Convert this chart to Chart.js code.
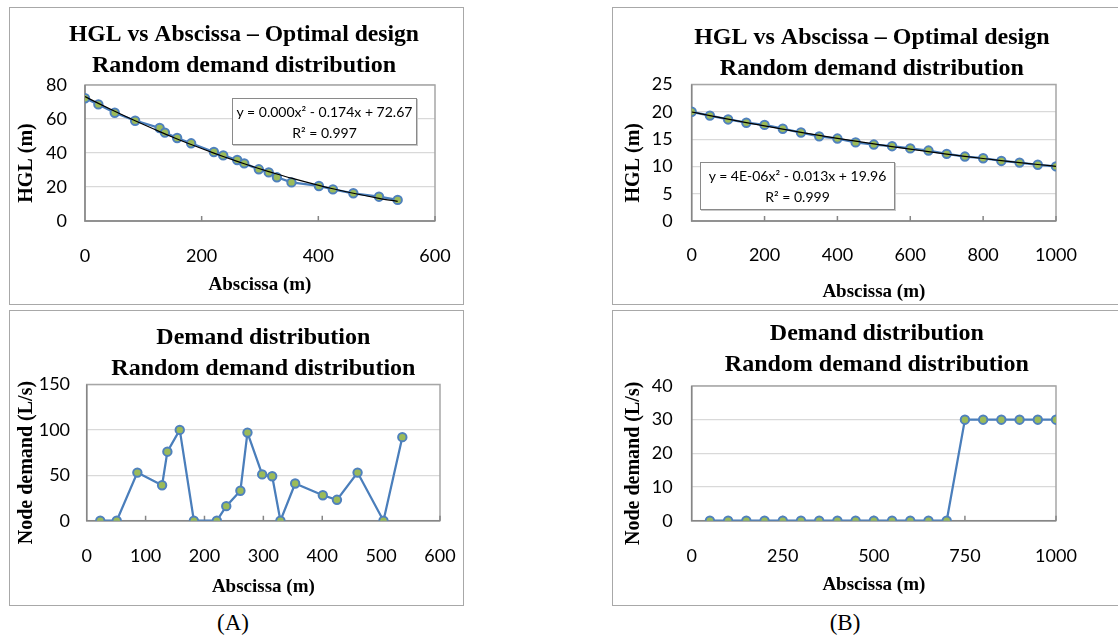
<!DOCTYPE html>
<html>
<head>
<meta charset="utf-8">
<script src="https://cdn.jsdelivr.net/npm/chart.js@4.4.1/dist/chart.umd.min.js"></script>
<style>
  body { margin: 0; width: 1118px; height: 641px; overflow: hidden; background: #fff; position: relative; }
  .box { position: absolute; border: 1.5px solid #a8a8a8; box-sizing: border-box; }
  canvas { position: absolute; }
  .eq { position: absolute; background: #fff; border: 1px solid #8a8a8a; box-shadow: 1px 1px 0 #c8c8c8; white-space: nowrap;
        font: 14px Lato, sans-serif; text-align: center; line-height: 21px; color: #000; box-sizing: border-box; padding-top: 2px; }
  .lbl { position: absolute; font: 23px 'Liberation Serif', serif; transform: translateX(-50%); }
</style>
</head>
<body>
<div class="box" style="left:9px;top:7px;width:455px;height:298px"></div>
<div class="box" style="left:612px;top:7px;width:520px;height:298px"></div>
<div class="box" style="left:9px;top:310px;width:455px;height:296px"></div>
<div class="box" style="left:612px;top:310px;width:520px;height:296px"></div>

<canvas id="a1" width="470" height="297" style="left:9px;top:7px"></canvas>
<canvas id="b1" width="506" height="297" style="left:612px;top:7px"></canvas>
<canvas id="a2" width="454" height="295" style="left:9px;top:310px"></canvas>
<canvas id="b2" width="506" height="295" style="left:612px;top:310px"></canvas>

<div class="eq" style="left:232px;top:98px;width:185px;height:47px">y = 0.000x² - 0.174x + 72.67<br>R² = 0.997</div>
<div class="eq" style="left:700px;top:162px;width:195px;height:48px">y = 4E-06x² - 0.013x + 19.96<br>R² = 0.999</div>

<div class="lbl" style="left:233px;top:610px">(A)</div>
<div class="lbl" style="left:845px;top:610px">(B)</div>

<script>
// (A) random demand case - node positions along the main (m)
const hglXA = [0, 23, 51, 86, 128, 137, 158, 182, 221, 237, 261, 273, 298, 315, 329, 354, 401, 425, 460, 504, 536];
const hglYA = [72.2, 68.6, 63.7, 59.0, 54.7, 52.0, 48.8, 45.7, 40.6, 38.6, 35.9, 33.9, 30.4, 28.6, 25.7, 22.7, 20.6, 18.6, 16.3, 14.3, 12.4];
const demandXA = [23, 51, 86, 128, 137, 158, 182, 221, 237, 261, 273, 298, 315, 329, 354, 401, 425, 460, 504, 536];
const demandYA = [0, 0, 53, 39, 76, 100, 0, 0, 16, 33, 97, 51, 49, 0, 41, 28, 23, 53, 0, 92];

// (B) step demand case
const hglXB = [0, 50, 100, 150, 200, 250, 300, 350, 400, 450, 500, 550, 600, 650, 700, 750, 800, 850, 900, 950, 1000];
const hglYB = [20.0, 19.3, 18.6, 18.0, 17.6, 16.9, 16.2, 15.5, 15.1, 14.4, 14.0, 13.7, 13.3, 12.9, 12.3, 11.8, 11.5, 11.0, 10.7, 10.3, 10.0];
const demandXB = [50, 100, 150, 200, 250, 300, 350, 400, 450, 500, 550, 600, 650, 700, 750, 800, 850, 900, 950, 1000];
const demandYB = [0, 0, 0, 0, 0, 0, 0, 0, 0, 0, 0, 0, 0, 0, 30, 30, 30, 30, 30, 30];

const hglTitle = ['HGL vs Abscissa \u2013 Optimal design', 'Random demand distribution'];
const demandTitle = ['Demand distribution', 'Random demand distribution'];

const serif = "'Liberation Serif', 'Times New Roman', serif";
const sans = "Lato, sans-serif";
const ySpace = '\u2002\u2002'; // excel sits the y title a bit below centre

// least squares quadratic, same as the spreadsheet trendline
function fit2(xs, ys) {
  let s = [0, 0, 0, 0, 0], t = [0, 0, 0];
  xs.forEach((x, i) => {
    for (let k = 0; k < 5; k++) s[k] += Math.pow(x, k);
    for (let k = 0; k < 3; k++) t[k] += ys[i] * Math.pow(x, k);
  });
  const m = [[s[0], s[1], s[2], t[0]], [s[1], s[2], s[3], t[1]], [s[2], s[3], s[4], t[2]]];
  for (let i = 0; i < 3; i++) {
    for (let j = i + 1; j < 3; j++) {
      const f = m[j][i] / m[i][i];
      for (let k = i; k < 4; k++) m[j][k] -= f * m[i][k];
    }
  }
  const c = [0, 0, 0];
  for (let i = 2; i >= 0; i--) {
    let v = m[i][3];
    for (let k = i + 1; k < 3; k++) v -= m[i][k] * c[k];
    c[i] = v / m[i][i];
  }
  return x => c[0] + c[1] * x + c[2] * x * x;
}

// plot frame + small inward tick marks on the x axis
const framePlugin = {
  id: 'frame',
  afterLayout(chart, args, opts) {
    // nudge the chart title sideways
    const tb = chart.titleBlock;
    if (tb && opts.dx) { tb.left += opts.dx; tb.right += opts.dx; }
  },
  beforeDatasetsDraw(chart) {
    const { ctx, chartArea: a, scales } = chart;
    ctx.save();
    ctx.lineWidth = 1.5;
    ctx.strokeStyle = '#a6a6a6';
    ctx.strokeRect(a.left, a.top, a.right - a.left, a.bottom - a.top);
    ctx.strokeStyle = '#868686';
    ctx.beginPath();
    ctx.moveTo(a.left, a.top);
    ctx.lineTo(a.left, a.bottom);
    ctx.lineTo(a.right, a.bottom);
    scales.x.ticks.forEach(t => {
      const px = scales.x.getPixelForValue(t.value);
      ctx.moveTo(px, a.bottom);
      ctx.lineTo(px, a.bottom - 5);
    });
    ctx.stroke();
    ctx.restore();
  }
};

function makeChart(id, o) {
  const pts = o.xs.map((x, i) => ({ x, y: o.ys[i] }));
  const datasets = [{
    data: pts,
    borderColor: '#4a7ebb',
    borderWidth: 2.25,
    pointRadius: 4.2,
    pointBorderWidth: 2,
    pointBackgroundColor: '#9bbb59',
    pointBorderColor: '#4f81bd',
    order: 1
  }];
  if (o.trend) {
    const f = fit2(o.xs, o.ys);
    datasets.push({
      data: o.xs.map(x => ({ x, y: f(x) })),
      borderColor: '#000',
      borderWidth: 1.2,
      pointRadius: 0,
      cubicInterpolationMode: 'monotone',
      order: 0
    });
  }
  return new Chart(document.getElementById(id), {
    type: 'line',
    data: { datasets },
    plugins: [framePlugin],
    options: {
      responsive: false,
      devicePixelRatio: 1,
      animation: false,
      layout: { padding: o.pad },
      plugins: {
        legend: { display: false },
        tooltip: { enabled: false },
        frame: { dx: o.titleDx },
        title: {
          display: true,
          text: o.title,
          fullSize: false,
          color: '#000',
          font: { family: serif, size: 24, weight: 'bold', lineHeight: 31 / 24 },
          padding: o.titlePad
        }
      },
      scales: {
        x: {
          type: 'linear',
          min: 0, max: o.xMax,
          // grid hidden, tickLength only used as the gap above the labels
          grid: { display: false, drawTicks: true, tickLength: o.xGap },
          border: { display: false },
          ticks: { stepSize: o.xStep, padding: 0, color: '#000', font: { family: sans, size: 18 }, maxRotation: 0, callback: v => v },
          title: { display: true, text: 'Abscissa (m)', color: '#000', font: { family: serif, size: 19, weight: 'bold' }, padding: o.xTitlePad }
        },
        y: {
          min: 0, max: o.yMax,
          grid: { color: '#d9d9d9', lineWidth: 1.2, drawTicks: true, tickLength: o.yGap, tickColor: 'rgba(0,0,0,0)' },
          border: { display: false },
          ticks: { stepSize: o.yStep, padding: 0, color: '#000', font: { family: sans, size: 18 } },
          title: { display: true, text: o.yTitle + ySpace, color: '#000', font: { family: serif, size: 20, weight: 'bold' }, padding: o.yTitlePad }
        }
      }
    }
  });
}

makeChart('a1', {
  xs: hglXA, ys: hglYA, trend: true, title: hglTitle, titleDx: -16,
  xMax: 600, xStep: 200, yMax: 80, yStep: 20, yTitle: 'HGL (m)',
  pad: { left: 0, right: 44, top: 0, bottom: 3.6 },
  titlePad: { top: 12, bottom: 4 },
  xGap: 24, xTitlePad: { top: 7, bottom: 4 },
  yGap: 18, yTitlePad: { top: 5.7, bottom: 7.4 }
});

makeChart('b1', {
  xs: hglXB, ys: hglYB, trend: true, title: hglTitle, titleDx: -2,
  xMax: 1000, xStep: 200, yMax: 25, yStep: 5, yTitle: 'HGL (m)',
  pad: { left: 0, right: 62, top: 0, bottom: 0 },
  titlePad: { top: 15.5, bottom: 0 },
  xGap: 23.2, xTitlePad: { top: 14.4, bottom: 1 },
  yGap: 19, yTitlePad: { top: 10, bottom: 5.8 }
});

makeChart('a2', {
  xs: demandXA, ys: demandYA, trend: false, title: demandTitle, titleDx: 0,
  xMax: 600, xStep: 100, yMax: 150, yStep: 50, yTitle: 'Node demand (L/s)',
  pad: { left: 0, right: 23, top: 0, bottom: 2.6 },
  titlePad: { top: 12.5, bottom: 0 },
  xGap: 24.5, xTitlePad: { top: 8.8, bottom: 4 },
  yGap: 16.7, yTitlePad: { top: 5.7, bottom: 0 }
});

makeChart('b2', {
  xs: demandXB, ys: demandYB, trend: false, title: demandTitle, titleDx: 3,
  xMax: 1000, xStep: 250, yMax: 40, yStep: 10, yTitle: 'Node demand (L/s)',
  pad: { left: 0, right: 62, top: 0, bottom: 4.6 },
  titlePad: { top: 8.5, bottom: 5.5 },
  xGap: 24.5, xTitlePad: { top: 6.8, bottom: 4 },
  yGap: 19, yTitlePad: { top: 10, bottom: 5.8 }
});
</script>
</body>
</html>
